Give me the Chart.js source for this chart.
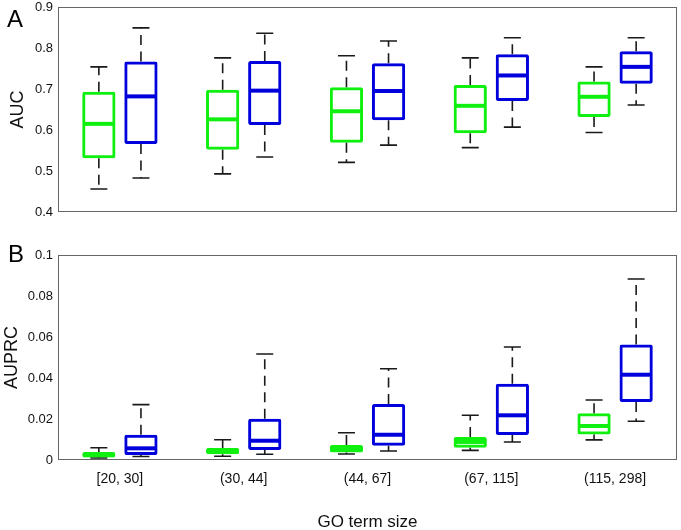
<!DOCTYPE html>
<html>
<head>
<meta charset="utf-8">
<script src="https://cdn.jsdelivr.net/npm/chart.js@4"></script>
<style>
  body { margin: 0; background: #fff; width: 681px; height: 530px; position: relative; overflow: hidden; }
  canvas { position: absolute; left: 0; }
  #chartA { top: -18px; }
  #chartB { top: 230px; }
  .panel { position: absolute; font-family: 'Liberation Sans', Arial, sans-serif; font-size: 24px; color: #000; line-height: 1; }
</style>
</head>
<body>
<canvas id="chartA" width="681" height="248"></canvas>
<canvas id="chartB" width="681" height="303"></canvas>
<div class="panel" style="left:7px; top:7px;">A</div>
<div class="panel" style="left:8px; top:242px;">B</div>
<script>
const categories = ['[20, 30]', '(30, 44]', '(44, 67]', '(67, 115]', '(115, 298]'];

// five-number summaries per category: [low whisker, q1, median, q3, high whisker]
const aucGreen = [
  [0.456, 0.531, 0.615, 0.693, 0.754],
  [0.493, 0.552, 0.626, 0.698, 0.776],
  [0.521, 0.569, 0.646, 0.704, 0.781],
  [0.557, 0.592, 0.659, 0.710, 0.776],
  [0.594, 0.632, 0.681, 0.718, 0.754]
];
const aucBlue = [
  [0.483, 0.566, 0.682, 0.767, 0.849],
  [0.534, 0.612, 0.696, 0.768, 0.836],
  [0.563, 0.624, 0.695, 0.763, 0.817],
  [0.607, 0.671, 0.733, 0.785, 0.825],
  [0.661, 0.713, 0.754, 0.792, 0.825]
];
const auprcGreen = [
  [0.0010, 0.0013, 0.0023, 0.0039, 0.0060],
  [0.0018, 0.0028, 0.0045, 0.0059, 0.0099],
  [0.0029, 0.0036, 0.0056, 0.0073, 0.0133],
  [0.0047, 0.0060, 0.0088, 0.0112, 0.0218],
  [0.0098, 0.0125, 0.0166, 0.0228, 0.0293]
];
const auprcBlue = [
  [0.0017, 0.0024, 0.0057, 0.0123, 0.0270],
  [0.0028, 0.0049, 0.0094, 0.0201, 0.0517],
  [0.0044, 0.0069, 0.0123, 0.0273, 0.0445],
  [0.0088, 0.0122, 0.0218, 0.0372, 0.0551],
  [0.0189, 0.0283, 0.0416, 0.0564, 0.0883]
];

const aucTicks = ['0.4', '0.5', '0.6', '0.7', '0.8', '0.9'];
const auprcTicks = ['0', '0.02', '0.04', '0.06', '0.08', '0.1'];

const font = "'Liberation Sans', Arial, sans-serif";

// frame around the plot area
const framePlugin = {
  id: 'frame',
  afterDraw(chart) {
    const a = chart.chartArea;
    const ctx = chart.ctx;
    ctx.save();
    ctx.strokeStyle = '#666';
    ctx.lineWidth = 1;
    ctx.strokeRect(Math.round(a.left) + 0.5, Math.round(a.top) + 0.5,
      Math.round(a.right - a.left) - 1, Math.round(a.bottom - a.top) - 1);
    ctx.restore();
  }
};

// medians and whiskers, placed on the bars drawn by Chart.js
const boxPlugin = {
  id: 'boxes',
  afterDatasetsDraw(chart) {
    const ctx = chart.ctx;
    const y = chart.scales.y;
    chart.data.datasets.forEach((ds, di) => {
      const meta = chart.getDatasetMeta(di);
      meta.data.forEach((bar, i) => {
        const [lo, q1, med, q3, hi] = ds.stats[i];
        const x = bar.x;
        const hw = bar.width / 2;
        const cap = 8.5;
        ctx.save();
        ctx.strokeStyle = '#1a1a1a';
        ctx.lineWidth = 1.6;
        ctx.setLineDash([10, 6.5]);
        ctx.beginPath();
        ctx.moveTo(x, y.getPixelForValue(q3));
        ctx.lineTo(x, y.getPixelForValue(hi));
        ctx.moveTo(x, y.getPixelForValue(q1));
        ctx.lineTo(x, y.getPixelForValue(lo));
        ctx.stroke();
        ctx.setLineDash([]);
        ctx.beginPath();
        ctx.moveTo(x - cap, y.getPixelForValue(hi));
        ctx.lineTo(x + cap, y.getPixelForValue(hi));
        ctx.moveTo(x - cap, y.getPixelForValue(lo));
        ctx.lineTo(x + cap, y.getPixelForValue(lo));
        ctx.stroke();
        ctx.strokeStyle = ds.borderColor;
        ctx.lineWidth = 4;
        ctx.beginPath();
        ctx.moveTo(x - hw + 1, y.getPixelForValue(med));
        ctx.lineTo(x + hw - 1, y.getPixelForValue(med));
        ctx.stroke();
        ctx.restore();
      });
    });
  }
};

function boxDataset(stats, color) {
  return {
    data: stats.map(s => [s[1], s[3]]),
    stats: stats,
    borderColor: color,
    backgroundColor: 'rgba(0,0,0,0)',
    borderWidth: 3,
    borderSkipped: false,
    borderRadius: 2,
    categoryPercentage: 0.68,
    barPercentage: 0.79
  };
}

function makeChart(id, green, blue, yMin, yMax, step, tickLabels, yTitle, yTitlePad, showX, xHeight) {
  return new Chart(document.getElementById(id).getContext('2d'), {
    type: 'bar',
    data: {
      labels: categories,
      datasets: [boxDataset(green, '#10f010'), boxDataset(blue, '#0000dd')]
    },
    options: {
      responsive: false,
      animation: false,
      layout: { padding: { top: 25, right: 4, left: 0, bottom: 0 } },
      plugins: { legend: { display: false }, tooltip: { enabled: false } },
      scales: {
        x: {
          grid: { display: false, drawTicks: false },
          border: { display: false },
          ticks: { display: showX, padding: 11, color: '#111', font: { family: font, size: 14 } },
          title: {
            display: showX,
            text: 'GO term size',
            color: '#111',
            padding: { top: 0, bottom: 0 },
            font: { family: font, size: 17 }
          },
          afterFit(scale) { scale.height = xHeight; }
        },
        y: {
          min: yMin,
          max: yMax,
          grid: { display: false, drawTicks: false },
          border: { display: false },
          ticks: {
            stepSize: step,
            padding: 5,
            color: '#111',
            font: { family: font, size: 13 },
            callback: (v, i) => tickLabels[i]
          },
          title: {
            display: true,
            text: yTitle,
            color: '#111',
            padding: { top: yTitlePad, bottom: 0 },
            font: { family: font, size: 18 }
          },
          afterFit(scale) { scale.width = 58; }
        }
      }
    },
    plugins: [framePlugin, boxPlugin]
  });
}

makeChart('chartA', aucGreen, aucBlue, 0.4, 0.9, 0.1, aucTicks, 'AUC', 7.5, false, 18);
makeChart('chartB', auprcGreen, auprcBlue, 0, 0.1, 0.02, auprcTicks, 'AUPRC', 1, true, 73);
</script>
</body>
</html>
